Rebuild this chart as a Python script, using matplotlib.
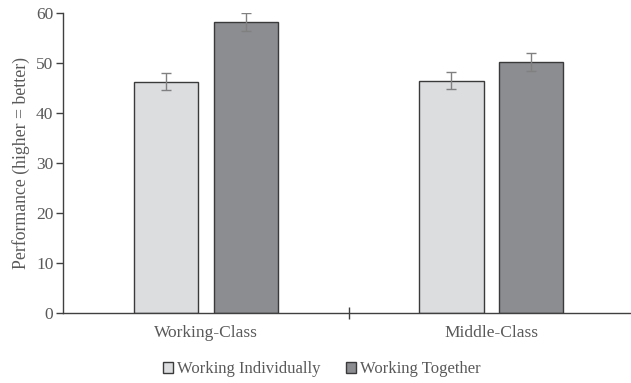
import matplotlib
matplotlib.use("Agg")
import matplotlib.pyplot as plt
import numpy as np

categories = ["Working-Class", "Middle-Class"]
series_names = ["Working Individually", "Working Together"]
individually = [46.2, 46.4]
together = [58.2, 50.3]
err_individually = [1.7, 1.7]
err_together = [1.8, 1.8]

plt.rcParams['font.family'] = ['Liberation Serif', 'DejaVu Serif']
txt = '#595959'

fig = plt.figure(figsize=(6.31, 3.83), dpi=100)
ax = fig.add_axes([0.1, 0.183, 0.905, 0.783])

x = np.arange(len(categories))
w = 0.225
off = 0.14
colors = ['#dcdddf', '#8c8d90']
for vals, errs, o, c, name in [(individually, err_individually, -off, colors[0], series_names[0]),
                               (together, err_together, off, colors[1], series_names[1])]:
    ax.bar(x + o, vals, w, color=c, edgecolor='#3a3a3a', linewidth=1.0, label=name, zorder=2)
    ax.errorbar(x + o, vals, yerr=errs, fmt='none', ecolor='#808080', elinewidth=1.0,
                capsize=3.5, capthick=1.0, zorder=3)

ax.set_xlim(-0.5, 1.5)
ax.set_ylim(0, 60)
ax.set_yticks(range(0, 61, 10))
ax.set_xticks(x)
ax.set_xticklabels(categories)
ax.set_xticks([0.5], minor=True)
ax.tick_params(axis='x', which='major', length=0, pad=9, labelsize=12.5, labelcolor=txt)
ax.tick_params(axis='x', which='minor', length=8, direction='inout', color='#404040', width=1)
ax.tick_params(axis='y', length=5, color='#404040', width=1, labelsize=12.5, labelcolor=txt, pad=2)
for s in ['top', 'right']:
    ax.spines[s].set_visible(False)
for s in ['left', 'bottom']:
    ax.spines[s].set_color('#404040')
    ax.spines[s].set_linewidth(1.0)
ax.set_ylabel('Performance (higher = better)', fontsize=12.8, color=txt, labelpad=4)

leg = fig.legend(loc='center', bbox_to_anchor=(0.51, 0.036), ncol=2, frameon=False,
                 fontsize=12, handlelength=0.6, handleheight=0.6, handletextpad=0.25,
                 columnspacing=1.5, labelcolor=txt)
for h in leg.legend_handles:
    h.set_linewidth(1.0)
    h.set_edgecolor('#3a3a3a')

fig.savefig('out.png', dpi=100)
